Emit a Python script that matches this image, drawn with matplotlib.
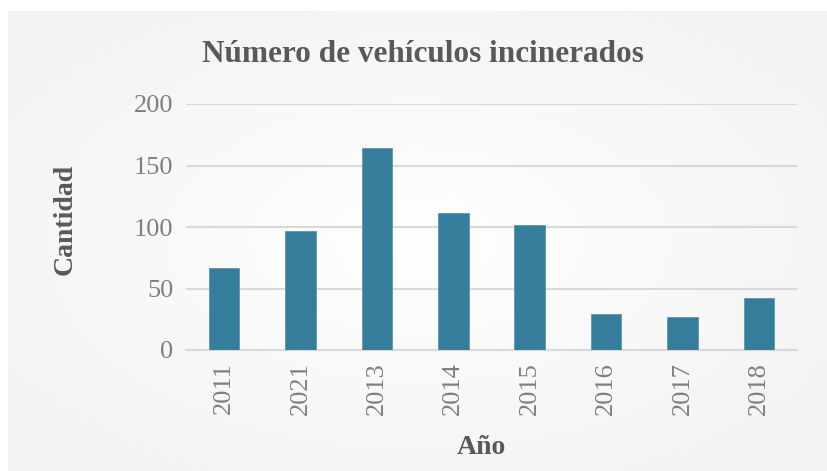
import numpy as np
from matplotlib import pyplot as plt

years = ['2011', '2021', '2013', '2014', '2015', '2016', '2017', '2018']
counts = [67, 97, 164, 111, 102, 29, 27, 42]
yticks = [0, 50, 100, 150, 200]

bar_color = '#367C9B'
grid_color = '#D9D9D9'
serif = ['Liberation Serif', 'DejaVu Serif']

W, H = 827, 471
fig = plt.figure(figsize=(W / 100, H / 100), dpi=100)
fig.patch.set_facecolor('white')

# radial gradient background box
bg = fig.add_axes([8 / W, 0, (W - 8) / W, (H - 11) / H])
gx, gy = np.meshgrid(np.linspace(-1, 1, 400), np.linspace(-1, 1, 240))
r = np.clip(np.sqrt(gx ** 2 + gy ** 2) / 1.3, 0, 1)
shade = 1.0 - 0.05 * r
bg.imshow(np.dstack([shade, shade, shade]), aspect='auto', extent=(0, 1, 0, 1))
bg.axis('off')
bg.set_zorder(-1)

ax = fig.add_axes([186 / W, (H - 350) / H, (797 - 186) / W, (350 - 104) / H])
ax.set_facecolor('none')
x = np.arange(len(years))
ax.bar(x, counts, width=0.4, color=bar_color, edgecolor='#5B97B3', linewidth=0.6, zorder=3)
ax.set_xlim(-0.5, len(years) - 0.5)
ax.set_ylim(0, 200)
ax.set_yticks(yticks)
ax.set_xticks(x)
ax.set_xticklabels(years, rotation=90)
ax.grid(axis='y', color=grid_color, linewidth=1.5, zorder=0)
for s in ['top', 'right', 'left']:
    ax.spines[s].set_visible(False)
ax.spines['bottom'].set_color(grid_color)
ax.spines['bottom'].set_linewidth(1.5)
ax.tick_params(length=0, labelsize=19, labelcolor='#7F7F7F', pad=9)
for lab in ax.get_xticklabels() + ax.get_yticklabels():
    lab.set_family(serif)

fig.text(423 / W, 1 - 55 / H, 'Número de vehículos incinerados', ha='center', va='center',
         fontsize=22.5, fontweight='bold', color='#595959', family=serif)
fig.text(65 / W, 1 - 219 / H, 'Cantidad', ha='center', va='center', rotation=90,
         fontsize=20, fontweight='bold', color='#595959', family=serif)
fig.text(481 / W, 1 - 447 / H, 'Año', ha='center', va='center',
         fontsize=20, fontweight='bold', color='#595959', family=serif)

fig.savefig('out.png', dpi=100)
